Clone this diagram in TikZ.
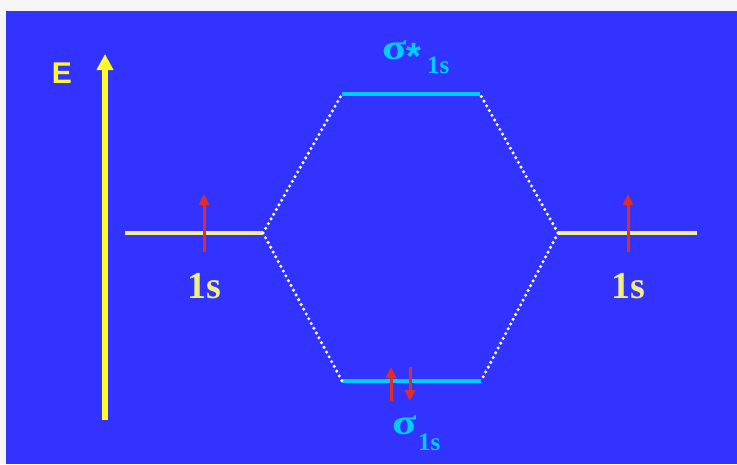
\documentclass[tikz,border=0pt]{standalone}
\usepackage{fontspec}
\setmainfont{Liberation Serif}
\newfontfamily\arialf{Liberation Sans}
\usetikzlibrary{arrows.meta}
\definecolor{bgblue}{RGB}{51,51,255}
\definecolor{pagegray}{RGB}{246,246,246}
\definecolor{paleyel}{RGB}{242,238,150}
\definecolor{txtyel}{RGB}{240,240,130}
\definecolor{axisyel}{RGB}{255,250,40}
\definecolor{moblue}{RGB}{0,205,255}
\definecolor{spinred}{RGB}{225,45,35}
\tikzset{
  aolevel/.style={draw=paleyel, line width=4pt},
  molevel/.style={draw=moblue, line width=4pt},
  corr/.style={draw=white, line width=3.4pt, line cap=round, dash pattern=on 0pt off 5.4pt},
  spin/.style={draw=spinred, line width=3pt, -{Triangle[length=11pt,width=10pt]}},
  aolabel/.style={text=txtyel, font=\bfseries\fontsize{38}{44}\selectfont, anchor=base, inner sep=0pt},
  molabel/.style={text=moblue, font=\bfseries\fontsize{36}{40}\selectfont, anchor=base west, inner sep=0pt},
  subl/.style={text=moblue, font=\bfseries\fontsize{25}{29}\selectfont, anchor=base west, inner sep=0pt},
}
\begin{document}
\begin{tikzpicture}[x=1pt,y=-1pt]
\useasboundingbox (0,0) rectangle (737,464);
\fill[pagegray] (0,0) rectangle (737,464);
\fill[bgblue] (6,11) rectangle (737,464);
% energy axis
\coordinate (ebot) at (105,420);
\coordinate (etop) at (105,54);
\draw[draw=axisyel, line width=5.5pt, -{Triangle[length=16pt,width=16pt]}] (ebot) -- (etop);
\node[text=axisyel, font=\arialf\bfseries\fontsize{30}{34}\selectfont, anchor=base, inner sep=0pt] (elab) at (62,83) {E};
% AO levels
\coordinate (la) at (125,233);
\coordinate (lb) at (263,233);
\coordinate (ra) at (558,233);
\coordinate (rb) at (697,233);
\draw[aolevel] (la) -- (lb);
\draw[aolevel] (ra) -- (rb);
% MO levels
\coordinate (ta) at (342,94);
\coordinate (tb) at (480,94);
\coordinate (ba) at (342,381);
\coordinate (bb) at (481,381);
\draw[molevel] (ta) -- (tb);
\draw[molevel] (ba) -- (bb);
% correlation lines
\draw[corr] (lb) -- (ta);
\draw[corr] (lb) -- (ba);
\draw[corr] (ra) -- (tb);
\draw[corr] (ra) -- (bb);
% spins
\coordinate (s1a) at (204,252); \coordinate (s1b) at (204,194);
\coordinate (s2a) at (628,252); \coordinate (s2b) at (628,194);
\coordinate (s3a) at (391,401); \coordinate (s3b) at (391,367);
\coordinate (s4a) at (410,367); \coordinate (s4b) at (410,401);
\draw[spin] (s1a) -- (s1b);
\draw[spin] (s2a) -- (s2b);
\draw[spin] (s3a) -- (s3b);
\draw[spin] (s4a) -- (s4b);
% labels
\node[aolabel] (l1s) at (204,298) {1s};
\node[aolabel] (r1s) at (628,298) {1s};
\node[molabel] (sigstar) at (382,59) {\scalebox{1.25}[1]{σ}};
\node[molabel, font=\arialf\bfseries\fontsize{38}{42}\selectfont] (star) at (406,69) {*};
\node[subl] (sigstarsub) at (427,73) {1s};
\node[molabel] (sig) at (392,434) {\scalebox{1.25}[1]{σ}};
\node[subl] (sigsub) at (418,450) {1s};
\end{tikzpicture}
\end{document}
